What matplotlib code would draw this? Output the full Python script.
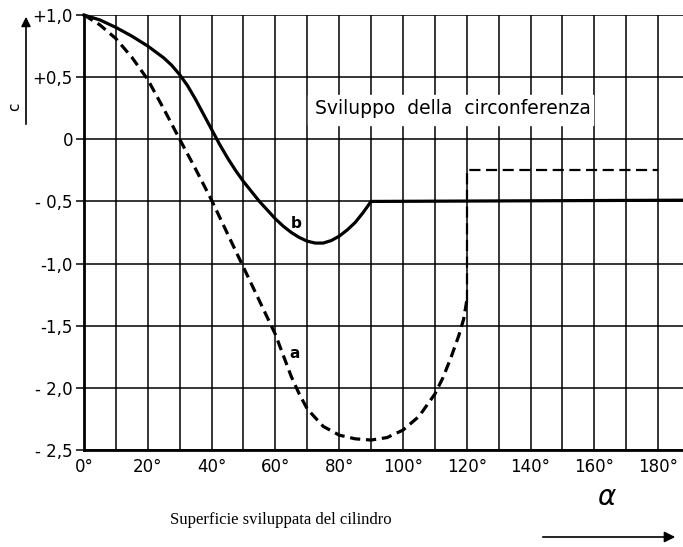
import matplotlib
matplotlib.use('Agg')
import matplotlib.pyplot as plt
from matplotlib.patches import FancyArrowPatch

# curve b (solid)
alpha_b = [0, 5, 10, 15, 20, 25, 27.5, 30, 32.5, 35, 37.5, 40, 42.5, 45, 47.5, 50, 52.5, 55, 57.5, 60,
           62.5, 65, 67.5, 70, 72.5, 75, 77.5, 80, 82.5, 85, 87.5, 90, 188]
c_b = [1.0, 0.96, 0.90, 0.83, 0.75, 0.655, 0.595, 0.52, 0.43, 0.32, 0.20, 0.08, -0.04, -0.15, -0.25, -0.34,
       -0.42, -0.50, -0.57, -0.64, -0.70, -0.75, -0.79, -0.82, -0.835, -0.835, -0.815, -0.78, -0.73,
       -0.67, -0.59, -0.50, -0.49]

# curve a (dashed)
alpha_a = [0, 5, 10, 15, 20, 25, 30, 35, 40, 45, 50, 55, 60, 62.5, 65, 67.5, 70, 75, 80, 85, 90, 95,
           100, 105, 110, 112.5, 115, 117.5, 119, 120]
c_a = [1.0, 0.92, 0.81, 0.66, 0.48, 0.245, 0.0, -0.24, -0.49, -0.76, -1.03, -1.30, -1.57, -1.74, -1.91,
       -2.05, -2.17, -2.31, -2.38, -2.41, -2.42, -2.40, -2.34, -2.23, -2.05, -1.92, -1.76, -1.58, -1.45, -1.3]

# step of curve a beyond 120 deg
alpha_step = [120, 120, 180]
c_step = [-1.3, -0.25, -0.25]

xticks = [0, 20, 40, 60, 80, 100, 120, 140, 160, 180]
yticks = [1.0, 0.5, 0, -0.5, -1.0, -1.5, -2.0, -2.5]
ylabels = ['+1,0', '+0,5', '0', '- 0,5', '-1,0', '-1,5', '- 2,0', '- 2,5']

fig = plt.figure(figsize=(6.83, 5.47), dpi=100)
ax = fig.add_axes([84/683, 97/547, 1 - 84/683, 435/547])

ax.set_xlim(0, 187.8)
ax.set_ylim(-2.5, 1.0)

# grid
for x in range(0, 190, 10):
    ax.axvline(x, color='black', lw=1.1, zorder=1)
for y in yticks:
    ax.axhline(y, color='black', lw=1.1, zorder=1)

# white box behind the note
ax.fill_between([70.3, 159.7], 0.115, 0.36, color='white', zorder=2)
ax.text(72.3, 0.245, 'Sviluppo  della  circonferenza', fontsize=13.5,
        ha='left', va='center', zorder=3)

ax.plot(alpha_b, c_b, color='black', lw=2.3, zorder=4, clip_on=False, solid_joinstyle='round')
ax.plot(alpha_a, c_a, color='black', lw=2.3, ls=(0, (3.2, 1.8)), zorder=4, clip_on=False)
ax.plot(alpha_step, c_step, color='black', lw=1.6, ls=(0, (5, 2.5)), zorder=4)

ax.text(66.5, -0.68, 'b', fontsize=11, fontweight='bold', ha='center', va='center', zorder=5)
ax.text(66, -1.72, 'a', fontsize=11, fontweight='bold', ha='center', va='center', zorder=5)

for s in ['top', 'right']:
    ax.spines[s].set_visible(False)
ax.spines['left'].set_linewidth(2)
ax.spines['bottom'].set_linewidth(2)

ax.set_xticks(xticks)
ax.set_xticklabels([f'{v}°' for v in xticks], fontsize=12)
ax.set_yticks(yticks)
ax.set_yticklabels(ylabels, fontsize=12)
ax.tick_params(axis='y', length=6, width=1.1, pad=2)
ax.tick_params(axis='x', length=0, pad=6)

# y axis label with arrow
fig.text(15/683, 1 - 107/547, 'c', fontsize=11, rotation=90, ha='center', va='center')
fig.add_artist(FancyArrowPatch((26/683, 1 - 127/547), (26/683, 1 - 14/547),
               transform=fig.transFigure, arrowstyle='-|>', mutation_scale=14, color='black', lw=1.2))

# x axis label with arrow
fig.text(281/683, 1 - 520/547, 'Superficie sviluppata del cilindro', fontsize=12,
         family='Liberation Serif', ha='center', va='center')
fig.text(607/683, 1 - 497/547, r'$\alpha$', fontsize=20, ha='center', va='center')
fig.add_artist(FancyArrowPatch((540/683, 1 - 537/547), (678/683, 1 - 537/547),
               transform=fig.transFigure, arrowstyle='-|>', mutation_scale=16, color='black', lw=1.2))

fig.savefig('out.png', dpi=100)
